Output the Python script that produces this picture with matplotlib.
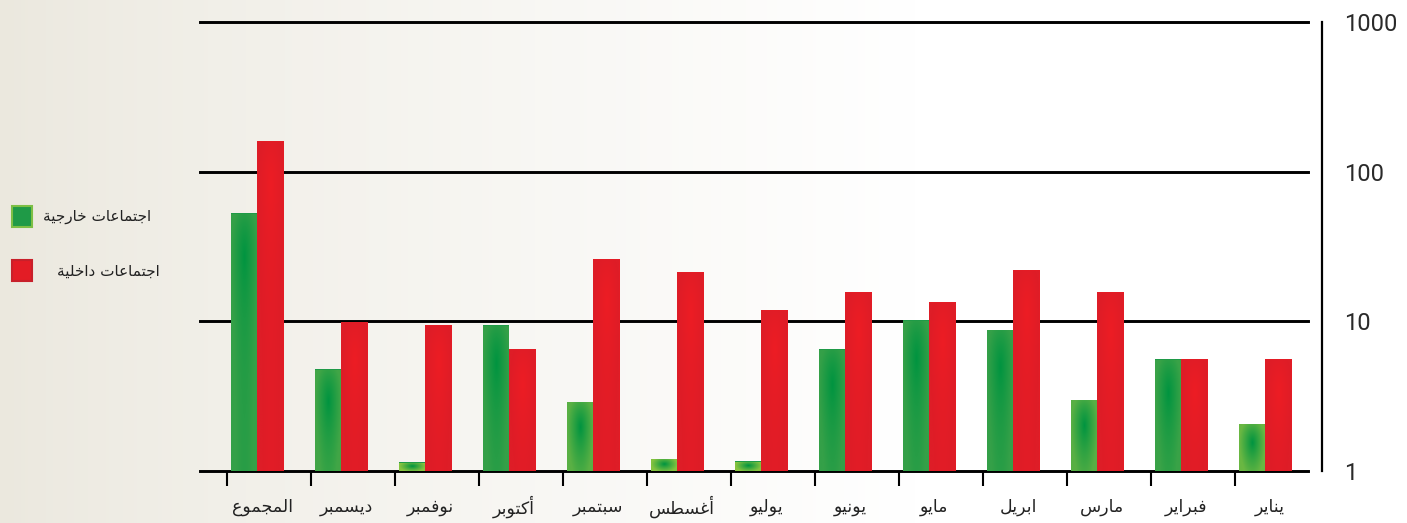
import numpy as np
import matplotlib
matplotlib.use('Agg')
import matplotlib.pyplot as plt
from matplotlib.patches import Rectangle

# categories, right-to-left in the original: المجموع is the leftmost group
months = ['المجموع', 'ديسمبر', 'نوفمبر', 'أكتوبر', 'سبتمبر', 'أغسطس', 'يوليو',
          'يونيو', 'مايو', 'ابريل', 'مارس', 'فبراير', 'يناير']
external = [52.6, 4.8, 1.14, 9.4, 2.9, 1.21, 1.16, 6.5, 10.2, 8.8, 3.0, 5.6, 2.07]
internal = [160, 9.9, 9.4, 6.5, 25.9, 21.3, 11.9, 15.7, 13.4, 22.0, 15.7, 5.6, 5.6]
series_names = ['اجتماعات خارجية', 'اجتماعات داخلية']
yticks = [1, 10, 100, 1000]

# matplotlib has no arabic shaping, so map letters to presentation forms
DUAL = set('بتثجحخسشصضطظعغفقكلمنهيئ')
BASE = {'ا': 0xFE8D, 'أ': 0xFE83, 'ب': 0xFE8F, 'ة': 0xFE93, 'ت': 0xFE95,
        'ج': 0xFE9D, 'خ': 0xFEA5, 'د': 0xFEA9, 'ر': 0xFEAD, 'س': 0xFEB1,
        'ط': 0xFEC1, 'ع': 0xFEC9, 'غ': 0xFECD, 'ف': 0xFED1, 'ك': 0xFED9,
        'ل': 0xFEDD, 'م': 0xFEE1, 'ن': 0xFEE5, 'و': 0xFEED, 'ي': 0xFEF1}


def shape(s):
  out = []
  for k, ch in enumerate(s):
    if ch not in BASE:
      out.append(ch)
      continue
    prev = s[k-1] if k > 0 else ''
    nxt = s[k+1] if k + 1 < len(s) else ''
    jp = prev in DUAL
    jn = ch in DUAL and nxt in BASE
    form = 3 if (jp and jn) else 1 if jp else 2 if jn else 0
    out.append(chr(BASE[ch] + form))
  return ''.join(reversed(out))


W, H = 1407, 523
fig = plt.figure(figsize=(W/100, H/100), dpi=100)

# background: beige on the left fading to white
bg = fig.add_axes([0, 0, 1, 1], zorder=-10)
xx = np.linspace(0, 1, 400)
t = np.clip(xx / 0.65, 0, 1) ** 0.8
left = np.array([235, 232, 222]) / 255.0
grad = left[None, :] * (1 - t[:, None]) + 1.0 * t[:, None]
bg.imshow(grad[None, :, :], aspect='auto', extent=[0, 1, 0, 1])
bg.set_axis_off()

ax = fig.add_axes([200/W, 52/H, 1108/W, 449/H])
ax.patch.set_alpha(0)
ax.set_yscale('log')
ax.set_ylim(1, 1000)
ax.set_xlim(-0.82, 12.37)

for y in yticks:
  ax.axhline(y, color='black', lw=2.1, zorder=1, clip_on=False)

x = np.arange(len(months))
gb = ax.bar(x - 0.45, [v - 1 for v in external], bottom=1, width=0.31,
            align='edge', color='#1f9a47', zorder=3)
rb = ax.bar(x - 0.14, [v - 1 for v in internal], bottom=1, width=0.32,
            align='edge', color='#e31c25', zorder=2)


def radial(center, edge, n=60):
  u = np.linspace(-1, 1, n)
  dx, dy = np.meshgrid(u, u)
  r = np.clip(np.sqrt(dx**2 + 0.6 * dy**2), 0, 1)[..., None]
  return np.array(center)[None, None, :] * (1 - r) + np.array(edge)[None, None, :] * r


for patch, v in zip(gb, external):
  hpx = np.log10(v) * 149.7
  w = np.clip(hpx / 120.0, 0, 1)
  edge = np.array([141, 198, 63]) * (1 - w) + np.array([52, 160, 72]) * w
  img = radial([0, 148, 64], edge) / 255.0
  x0 = patch.get_x()
  im = ax.imshow(img, extent=[x0, x0 + patch.get_width(), 1, v],
                 aspect='auto', zorder=3.5, interpolation='bilinear')
  im.set_clip_path(patch)

for patch, v in zip(rb, internal):
  img = radial([237, 28, 36], [222, 29, 39]) / 255.0
  x0 = patch.get_x()
  im = ax.imshow(img, extent=[x0, x0 + patch.get_width(), 1, v],
                 aspect='auto', zorder=2.5, interpolation='bilinear')
  im.set_clip_path(patch)

ax.set_xlim(-0.82, 12.37)
ax.set_ylim(1, 1000)

for s in ['top', 'left', 'bottom']:
  ax.spines[s].set_visible(False)
ax.spines['right'].set_position(('outward', 10))
ax.spines['right'].set_linewidth(1.6)

ax.yaxis.set_ticks_position('right')
ax.set_yticks(yticks)
ax.set_yticklabels([str(v) for v in yticks], fontfamily=['Roboto', 'DejaVu Sans'],
                   fontweight='normal', fontsize=17, color='#2a2a2a')
ax.yaxis.set_minor_locator(matplotlib.ticker.NullLocator())
ax.tick_params(axis='y', length=0, pad=16)

ax.set_xticks([])
ax.set_xticks(x - 0.5, minor=True)
ax.tick_params(axis='x', which='minor', length=11, width=1.5, color='black', direction='out')

for i, m in enumerate(months):
  ax.text(i - 0.08, -36/449, shape(m), transform=ax.get_xaxis_transform(),
          ha='center', va='center', fontsize=12.5, color='#222222',
          fontfamily='DejaVu Sans')

# legend
leg_y = [217, 271]
leg_cols = [('#1f9a47', '#7dbf45'), ('#e31c25', '#c8202a')]
leg_tx = [97, 108]
for yy, (c, ec), tx, name in zip(leg_y, leg_cols, leg_tx, series_names):
  fig.patches.append(Rectangle((12/W, (H - yy - 10)/H), 20/W, 21/H, transform=fig.transFigure,
                               facecolor=c, edgecolor=ec, lw=1.5))
  fig.text(tx/W, (H - yy)/H, shape(name), ha='center', va='center', fontsize=11,
           color='#222222', fontfamily='DejaVu Sans')

fig.savefig('out.png', dpi=100)
